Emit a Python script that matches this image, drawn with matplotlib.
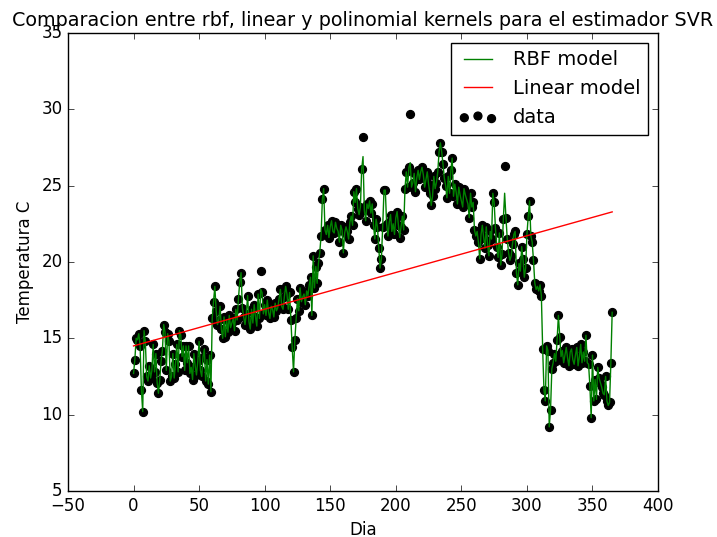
import numpy as np
import matplotlib
matplotlib.use("Agg")
import matplotlib.pyplot as plt

# temperatura diaria (dia 0..365)
temp = [
    12.7, 13.6, 15.0, 14.9, 15.3, 14.5, 11.6, 10.2, 15.5, 14.8,
    12.5, 12.2, 13.2, 12.4, 12.9, 14.6, 12.8, 14.0, 12.1, 11.4,
    12.3, 13.5, 14.2, 15.9, 15.4, 12.9, 15.3, 14.8, 12.2, 12.5,
    14.0, 12.4, 13.3, 14.6, 12.8, 15.5, 15.2, 13.8, 14.5, 12.9,
    14.5, 13.4, 14.5, 12.7, 13.1, 12.3, 14.0, 13.2, 12.6, 13.5,
    14.8, 12.9, 12.5, 13.8, 14.3, 12.2, 13.6, 12.0, 13.9, 11.5,
    16.3, 17.4, 18.4, 16.8, 15.9, 16.2, 17.1, 15.6, 15.0, 16.4,
    15.1, 16.2, 15.4, 16.5, 15.7, 16.0, 16.3, 15.5, 16.9, 16.2,
    17.6, 18.7, 19.3, 17.0, 16.4, 15.9, 16.6, 17.8, 16.1, 15.6,
    16.9, 16.0, 17.2, 16.4, 15.8, 17.9, 16.3, 19.4, 18.0, 16.6,
    17.2, 16.5, 17.5, 16.7, 16.3, 17.1, 16.9, 16.4, 17.3, 16.8,
    17.0, 17.6, 18.2, 17.1, 16.9, 17.7, 18.4, 17.9, 16.9, 18.0,
    16.2, 14.4, 12.8, 14.9, 16.3, 17.6, 16.8, 18.3, 17.4, 17.7,
    17.9, 17.2, 18.1, 17.8, 18.5, 19.0, 16.5, 20.4, 18.3, 19.7,
    18.6, 19.9, 20.6, 21.7, 24.1, 24.8, 22.1, 21.8, 22.4, 21.6,
    22.3, 22.7, 22.0, 21.9, 22.6, 22.2, 22.0, 21.3, 22.4, 22.1,
    20.6, 21.9, 22.3, 22.0, 21.5, 22.6, 23.0, 22.4, 24.6, 23.9,
    24.8, 23.5, 23.1, 23.6, 26.1, 28.2, 23.4, 22.7, 23.8, 23.5,
    24.0, 23.2, 23.8, 22.4, 21.5, 22.8, 22.3, 20.9, 19.6, 20.2,
    22.3, 24.7, 24.7, 22.5, 21.7, 22.6, 23.1, 22.0, 22.5, 21.8,
    22.9, 23.3, 22.4, 21.6, 22.3, 23.0, 22.1, 24.8, 25.9, 24.9,
    26.2, 29.7, 24.9, 25.2, 25.8, 24.6, 25.5, 26.0, 25.4, 25.9,
    26.2, 25.7, 24.9, 25.4, 25.9, 25.1, 24.5, 23.7, 24.3, 25.6,
    24.8, 25.2, 25.9, 27.2, 27.8, 27.2, 26.4, 25.5, 25.0, 24.2,
    25.6, 24.5, 26.0, 26.8, 24.3, 25.1, 24.6, 23.8, 24.9, 24.4,
    24.0, 23.6, 24.8, 24.4, 24.1, 23.8, 22.9, 24.5, 23.6, 23.9,
    22.1, 21.7, 22.0, 21.3, 20.2, 21.8, 22.4, 21.6, 20.9, 22.3,
    21.1, 20.4, 22.0, 21.5, 24.5, 23.9, 22.2, 21.0, 20.3, 21.9,
    19.8, 20.5, 22.8, 26.3, 22.9, 21.5, 20.6, 20.1, 20.4, 21.2,
    21.8, 22.0, 19.3, 18.5, 19.9, 19.4, 21.0, 20.2, 19.0, 19.6,
    21.8, 23.0, 24.0, 21.7, 21.3, 20.1, 18.6, 18.2, 18.4, 18.1,
    18.5, 17.8, 14.3, 11.6, 10.9, 14.5, 14.2, 9.2, 10.3, 13.0,
    13.4, 14.0, 13.5, 14.9, 16.5, 15.1, 13.8, 14.2, 13.4, 13.9,
    14.4, 13.7, 13.2, 14.1, 14.3, 13.6, 13.3, 13.9, 14.4, 13.2,
    13.8, 14.6, 13.4, 14.1, 13.5, 15.2, 13.4, 13.3, 11.9, 9.8,
    13.9, 10.9, 12.3, 11.0, 13.1, 12.4, 12.1, 11.8, 11.4, 11.3,
    12.5, 10.9, 10.6, 10.8, 13.4, 16.7,
]
dias = np.arange(len(temp))

# el modelo rbf sigue los datos salvo en los picos
rbf_picos = {97: 18.2, 175: 26.9, 211: 26.5, 283: 24.5}
rbf = np.array(temp, dtype=float)
for d, v in rbf_picos.items():
    rbf[d] = v

# modelo lineal: pendiente, intercepto
lin_coef = [0.02405, 14.5]
lin = np.polyval(lin_coef, dias)

plt.style.use("classic")
fig = plt.figure(figsize=(7.17, 5.37), dpi=100, facecolor="white")
ax = fig.add_axes([0.0948, 0.0857, 0.823, 0.853])

sc = ax.scatter(dias, temp, c="k", s=32, label="data", zorder=1)
l1, = ax.plot(dias, rbf, c="g", lw=1, label="RBF model", zorder=2)
l2, = ax.plot(dias, lin, c="r", lw=1, label="Linear model", zorder=3)

ax.set_xlim(-50, 400)
ax.set_ylim(5, 35)
ax.set_xlabel("Dia", fontsize=12)
ax.set_ylabel("Temperatura C", fontsize=12)
ax.set_title("Comparacion entre rbf, linear y polinomial kernels para el estimador SVR",
             fontsize=13.8, y=1.0)
ax.legend([l1, l2, sc], ["RBF model", "Linear model", "data"], loc="upper right",
          fontsize=14, handlelength=2.0)

fig.savefig("out.png", dpi=100, facecolor="white")
